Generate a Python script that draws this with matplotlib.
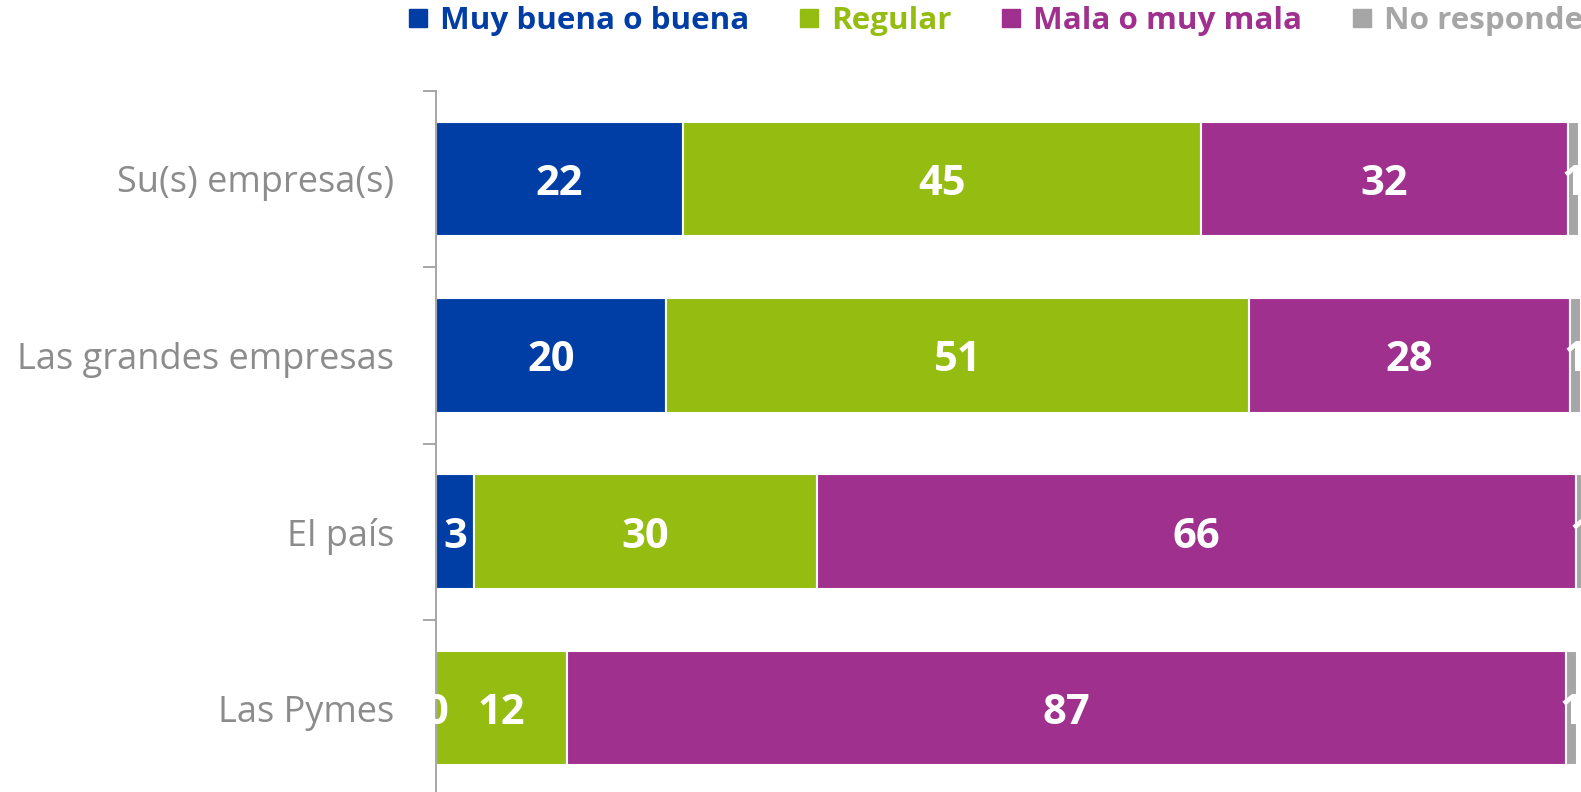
import matplotlib
matplotlib.use('Agg')
import matplotlib.pyplot as plt
from matplotlib.lines import Line2D
import numpy as np

# data (percent)
categories = ['Su(s) empresa(s)', 'Las grandes empresas', 'El país', 'Las Pymes']
series = ['Muy buena o buena', 'Regular', 'Mala o muy mala', 'No responde']
muy_buena = [21.6, 20.1, 3.3, 0.0]
regular = [45.4, 51.1, 30.1, 11.5]
mala = [32.1, 28.1, 66.4, 87.45]
no_responde = [1.0, 1.0, 1.0, 1.0]

colors = ['#003DA5', '#95BC10', '#A0308E', '#A6A6A6']

W, H = 1581, 792
fig = plt.figure(figsize=(W / 100, H / 100), dpi=100)

# axes: x=0 at 436px, 11.42 px per unit; spills past the right and bottom edges
x0, unit = 436, 11.42
xmax = 101.5
top, step = 90.7, 176.4
ax = fig.add_axes([x0 / W, 1 - (top + 4 * step) / H, xmax * unit / W, 4 * step / H])

y = np.arange(len(categories))
left = np.zeros(len(categories))
for vals, col in zip([muy_buena, regular, mala, no_responde], colors):
    bars = ax.barh(y, vals, left=left, height=0.65, color=col,
                   edgecolor='white', linewidth=1.5)
    labels = ax.bar_label(bars, labels=['%.0f' % v for v in vals],
                          label_type='center', color='white', fontsize=30,
                          fontweight='bold', family='Open Sans', clip_on=False)
    for t in labels:
        t.xyann = (0, -4)  # nudge down a little, like the original
    left = left + np.array(vals)

ax.set_xlim(0, xmax)
ax.set_ylim(len(categories) - 0.5, -0.5)

for s in ['top', 'right', 'bottom']:
    ax.spines[s].set_visible(False)
ax.spines['left'].set_color('#A0A0A0')
ax.spines['left'].set_linewidth(1.3)
ax.set_xticks([])

# ticks at the category boundaries, labels at the centres
ax.set_yticks(np.arange(-0.5, len(categories), 1.0))
ax.set_yticklabels([])
ax.tick_params(axis='y', which='major', length=9.5, width=1.3, color='#A0A0A0')
ax.set_yticks(y, minor=True)
ax.set_yticklabels(categories, minor=True, fontsize=26, color='#8C8C8C',
                   family='Open Sans')
ax.tick_params(axis='y', which='minor', length=0, pad=30)

handles = [Line2D([], [], marker='s', linestyle='none', markersize=13,
                  markerfacecolor=c, markeredgecolor=c) for c in colors]
leg = fig.legend(handles, series, loc='center left', ncol=4,
                 bbox_to_anchor=(404 / W, 1 - 21 / H), frameon=False,
                 prop={'family': 'Open Sans', 'weight': 'bold', 'size': 22.6},
                 handletextpad=0.25, columnspacing=1.45, handlelength=0.9,
                 borderaxespad=0, borderpad=0)
for t, c in zip(leg.get_texts(), colors):
    t.set_color(c)

fig.savefig('out.png', dpi=100)
